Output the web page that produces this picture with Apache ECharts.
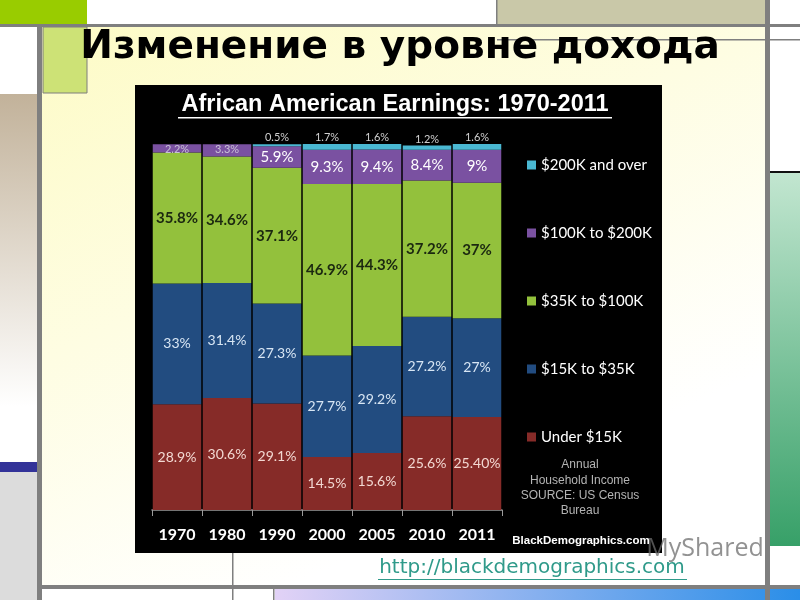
<!DOCTYPE html>
<html><head><meta charset="utf-8">
<script src="https://cdn.jsdelivr.net/npm/echarts@6/dist/echarts.min.js"></script>
<style>html,body{margin:0;padding:0;background:#fff}#c{width:800px;height:600px}</style>
</head><body><div id="c"></div><script>
// ---- data ----
const categories = ['1970','1980','1990','2000','2005','2010','2011'];
const seriesNames = ['Under $15K','$15K to $35K','$35K to $100K','$100K to $200K','$200K and over'];
const under15K  = [28.9, 30.6, 29.1, 14.5, 15.6, 25.6, 25.4];
const under15KLabels = ['28.9%','30.6%','29.1%','14.5%','15.6%','25.6%','25.40%'];
const k15to35   = [33, 31.4, 27.3, 27.7, 29.2, 27.2, 27];
const k35to100  = [35.8, 34.6, 37.1, 46.9, 44.3, 37.2, 37];
const k100to200 = [2.2, 3.3, 5.9, 9.3, 9.4, 8.4, 9];
const k200plus  = [null, null, 0.5, 1.7, 1.6, 1.2, 1.6];
const sourceLines = ['Annual','Household Income','SOURCE: US Census','Bureau'];

const chart = echarts.init(document.getElementById('c'), null, {renderer:'canvas'});
const fontLabel = 'Lato, "Open Sans", sans-serif';

function pct(p){ return p.value == null ? '' : p.value + '%'; }

const gray = '#7f7f7f';
const graphics = [
  // main slide panel
  {type:'rect', z:-10, shape:{x:42,y:26,width:723,height:559},
   style:{fill:{type:'linear',x:0,y:0,x2:0.35,y2:1,colorStops:[{offset:0,color:'#fdfbc6'},{offset:1,color:'#ffffff'}]}}},
  {type:'rect', z:-9, shape:{x:0,y:0,width:87,height:25}, style:{fill:'#99cc00'}},
  {type:'rect', z:-9, shape:{x:497,y:0,width:268,height:25}, style:{fill:'#c9c8a8'}},
  {type:'rect', z:-9, shape:{x:43,y:27,width:44,height:66}, style:{fill:'#cde276', stroke:gray, lineWidth:1}},
  {type:'rect', z:-9, shape:{x:0,y:94,width:37,height:368},
   style:{fill:{type:'linear',x:0,y:0,x2:0,y2:1,colorStops:[{offset:0,color:'#c2b29a'},{offset:0.85,color:'#ffffff'},{offset:1,color:'#ffffff'}]}}},
  {type:'rect', z:-9, shape:{x:0,y:462,width:37,height:10}, style:{fill:'#333399'}},
  {type:'rect', z:-9, shape:{x:0,y:472,width:37,height:128}, style:{fill:'#dcdcdc'}},
  {type:'rect', z:-9, shape:{x:770,y:173,width:30,height:373},
   style:{fill:{type:'linear',x:0,y:0,x2:0,y2:1,colorStops:[{offset:0,color:'#c2e6d0'},{offset:1,color:'#37a068'}]}}},
  {type:'rect', z:-9, shape:{x:770,y:171,width:30,height:2}, style:{fill:'#111'}},
  {type:'rect', z:-9, shape:{x:275,y:589,width:525,height:11},
   style:{fill:{type:'linear',x:0,y:0,x2:1,y2:0,colorStops:[{offset:0,color:'#e2d2f6'},{offset:1,color:'#2a8ee8'}]}}},
  // gray lines
  {type:'rect', z:-8, shape:{x:0,y:24,width:800,height:3}, style:{fill:gray}},
  {type:'rect', z:-8, shape:{x:497,y:39,width:303,height:1.5}, style:{fill:gray}},
  {type:'rect', z:-8, shape:{x:37,y:25,width:5,height:575}, style:{fill:gray}},
  {type:'rect', z:-8, shape:{x:765,y:0,width:5,height:600}, style:{fill:gray}},
  {type:'rect', z:-8, shape:{x:37,y:585,width:763,height:4}, style:{fill:gray}},
  {type:'rect', z:-8, shape:{x:496,y:0,width:1.5,height:25}, style:{fill:gray}},
  {type:'rect', z:-8, shape:{x:232,y:553,width:1.5,height:47}, style:{fill:gray}},
  {type:'rect', z:-8, shape:{x:273,y:589,width:1.5,height:11}, style:{fill:gray}},
  // slide title
  {type:'text', z:5, x:400, y:48, style:{text:'Изменение в уровне дохода', fill:'#000',
    font:'bold 39px "DejaVu Sans", sans-serif', textAlign:'center', textVerticalAlign:'middle'}},
  // black chart panel
  {type:'rect', z:-5, shape:{x:135,y:85,width:527,height:468}, style:{fill:'#000'}},
  // chart title + underline
  {type:'text', z:5, x:395, y:105, style:{text:'African American Earnings: 1970-2011', fill:'#fff',
    font:'bold 23.5px "Liberation Sans", Arial, sans-serif', textAlign:'center', textVerticalAlign:'middle'}},
  {type:'rect', z:5, shape:{x:178,y:117,width:434,height:1.5}, style:{fill:'#fff'}},
  // source note
  {type:'text', z:5, x:580, y:488, style:{text:sourceLines.join('\n'), fill:'#b4b4b4', lineHeight:15.3,
    font:'12px "Liberation Sans", Arial, sans-serif', textAlign:'center', textVerticalAlign:'middle'}},
  {type:'text', z:5, x:581, y:541, style:{text:'BlackDemographics.com', fill:'#fff',
    font:'bold 11.5px "Liberation Sans", Arial, sans-serif', textAlign:'center', textVerticalAlign:'middle'}},
  // link
  {type:'text', z:5, x:532, y:568, style:{text:'http://blackdemographics.com', fill:'#2f9a8a',
    font:'20px "DejaVu Sans", sans-serif', textAlign:'center', textVerticalAlign:'middle'}},
  {type:'rect', z:5, shape:{x:378,y:579,width:309,height:1}, style:{fill:'#2f9a8a'}},
  // watermark
  {type:'text', z:4, x:705, y:549, style:{text:'MyShared', fill:'rgba(110,110,110,0.75)',
    font:'25px "Open Sans", sans-serif', textAlign:'center', textVerticalAlign:'middle'}}
];

function bar(name, data, color, label, labelTexts){
  return {
    name, type:'bar', stack:'total', barCategoryGap:'3%',
    data: data.map((v,i)=>{
      const item = {value:v};
      if (name === '$100K to $200K' && v != null && v < 4) {
        item.label = {fontSize:11, color:'#c9c2d6', fontWeight:'normal', position:'insideTop', distance:0};
      }
      if (labelTexts) item.label = Object.assign({}, item.label||{}, {formatter: labelTexts[i]});
      return item;
    }),
    itemStyle:{color},
    label: Object.assign({show:true, formatter:pct, fontFamily:fontLabel}, label)
  };
}

const option = {
  backgroundColor:'#ffffff',
  animation:false,
  graphic: graphics,
  grid:{left:152, right:298, top:144, bottom:90},
  xAxis:{type:'category', data:categories,
    axisLine:{lineStyle:{color:'#9a9a9a', width:1.5}},
    axisTick:{show:true, length:6, lineStyle:{color:'#9a9a9a'}},
    axisLabel:{color:'#fff', fontWeight:'bold', fontSize:16, fontFamily:fontLabel, margin:17}},
  yAxis:{type:'value', min:0, max:100, show:false, splitLine:{show:false}},
  legend:{orient:'vertical', left:522, top:152, itemGap:52, itemWidth:9, itemHeight:9, icon:'rect',
    data:['$200K and over','$100K to $200K','$35K to $100K','$15K to $35K','Under $15K'],
    textStyle:{color:'#fff', fontSize:15, fontFamily:fontLabel, lineHeight:16}},
  series:[
    bar(seriesNames[0], under15K, '#862b28', {position:'inside', color:'#f3d8d2', fontSize:14}, under15KLabels),
    bar(seriesNames[1], k15to35, '#224c80', {position:'inside', color:'#d8e6f4', fontSize:14}),
    bar(seriesNames[2], k35to100, '#93c13c', {position:'inside', color:'#1b2810', fontSize:15, fontWeight:'bold'}),
    bar(seriesNames[3], k100to200, '#7a51a1', {position:'inside', color:'#ffffff', fontSize:15}),
    bar(seriesNames[4], k200plus, '#4ab8d2', {position:'top', color:'#d0d0d0', fontSize:11, distance:1})
  ]
};
chart.setOption(option);
</script></body></html>
